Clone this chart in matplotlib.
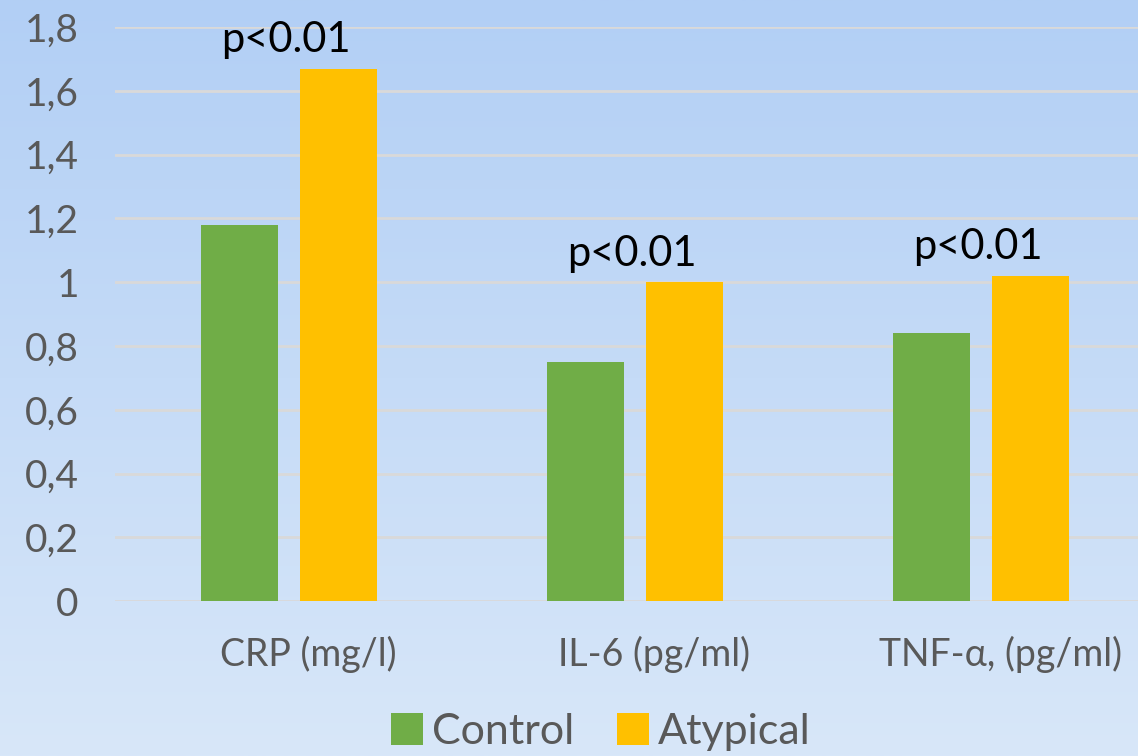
import numpy as np
import matplotlib
matplotlib.use("Agg")
import matplotlib.pyplot as plt
import matplotlib.transforms as mtransforms
from matplotlib.colors import LinearSegmentedColormap

# Data
categories = ["CRP (mg/l)", "IL-6 (pg/ml)", "TNF-\u03b1, (pg/ml)"]
control = [1.18, 0.75, 0.84]
atypical = [1.67, 1.00, 1.02]
p_labels = ["p<0.01", "p<0.01", "p<0.01"]
y_ticks = [0, 0.2, 0.4, 0.6, 0.8, 1.0, 1.2, 1.4, 1.6, 1.8]
y_tick_labels = ["0", "0,2", "0,4", "0,6", "0,8", "1", "1,2", "1,4", "1,6", "1,8"]

plt.rcParams['font.family'] = ['Lato', 'DejaVu Sans']

fig = plt.figure(figsize=(11.38, 7.56), dpi=100)

# Gradient background across the whole figure
bg = fig.add_axes([0, 0, 1, 1], zorder=-10)
cmap = LinearSegmentedColormap.from_list("bg", ["#b2cff5", "#d8e7f9"])
bg.imshow(np.linspace(0, 1, 256).reshape(-1, 1), aspect='auto', cmap=cmap,
          extent=[0, 1, 0, 1])
bg.axis('off')

ax = fig.add_axes([0.101, 0.205, 0.899, 0.759])
ax.patch.set_alpha(0)

x = np.arange(len(categories))
w = 0.2225
off = 0.143
ax.bar(x - off, control, w, color='#70ad47', label='Control', zorder=3)
ax.bar(x + off, atypical, w, color='#ffc000', label='Atypical', zorder=3)

for xi, val, lab in zip(x, atypical, p_labels):
    ax.annotate(lab, (xi - 0.01, val), xytext=(0, 12), textcoords='offset points',
                ha='center', va='baseline', fontsize=30, color='black')

ax.set_xlim(-0.503, 2.454)
ax.set_ylim(0, 1.8)
ax.set_yticks(y_ticks)
ax.set_yticklabels(y_tick_labels)
ax.set_xticks(x)
ax.set_xticklabels(categories)
ax.tick_params(axis='y', length=0, pad=26, labelsize=28, labelcolor='#595959')
ax.tick_params(axis='x', length=0, pad=25, labelsize=27, labelcolor='#595959')
for lab in ax.get_yticklabels():
    lab.set_horizontalalignment('right')
# category labels sit a little right of the bar groups in the original
shift = mtransforms.ScaledTranslation(14 / 72, 0, fig.dpi_scale_trans)
for lab in ax.get_xticklabels():
    lab.set_transform(lab.get_transform() + shift)

ax.yaxis.grid(True, color='#d9d9d9', linewidth=2, zorder=0)
ax.set_axisbelow(True)
for s in ax.spines.values():
    s.set_visible(False)

ax.legend(loc='upper center', bbox_to_anchor=(0.475, -0.165), ncol=2, frameon=False,
          fontsize=31, labelcolor='#595959', handlelength=0.75, handleheight=0.75,
          handletextpad=0.2, columnspacing=1.0, borderaxespad=0)

fig.savefig("out.png", dpi=100)
